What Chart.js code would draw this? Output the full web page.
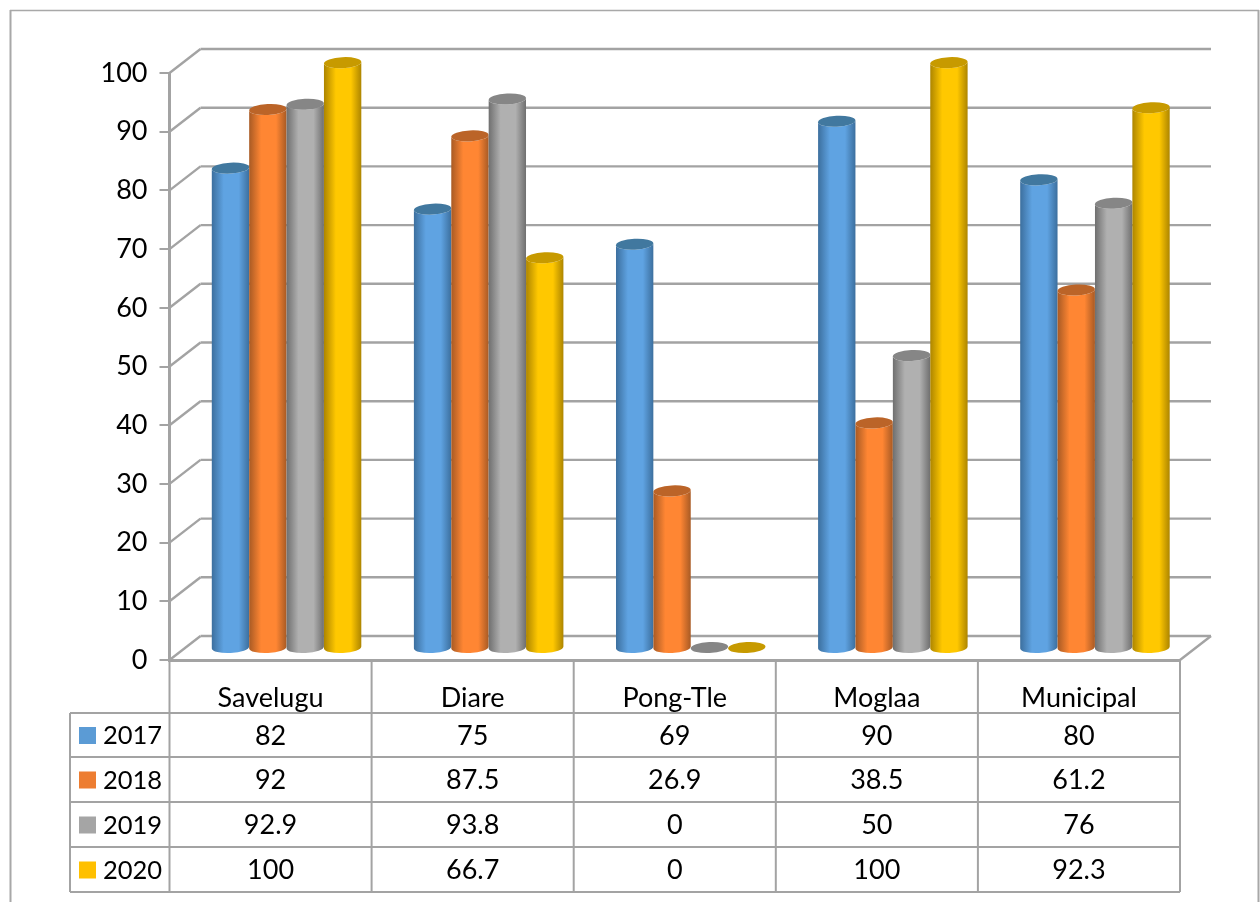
<!DOCTYPE html>
<html>
<head>
<meta charset="utf-8">
<title>Savelugu, Diare, Pong-Tle, Moglaa, Municipal 2017-2020</title>
<script src="https://cdn.jsdelivr.net/npm/chart.js@4/dist/chart.umd.min.js"></script>
<style>
  html, body { margin: 0; padding: 0; background: #fff; overflow: hidden; }
  canvas { display: block; }
</style>
</head>
<body>
<canvas id="chart" width="1260" height="902"></canvas>
<script>
const categories = ['Savelugu', 'Diare', 'Pong-Tle', 'Moglaa', 'Municipal'];
const yearLabels = ['2017', '2018', '2019', '2020'];
const values2017 = [82, 75, 69, 90, 80];
const values2018 = [92, 87.5, 26.9, 38.5, 61.2];
const values2019 = [92.9, 93.8, 0, 50, 76];
const values2020 = [100, 66.7, 0, 100, 92.3];
const seriesValues = [values2017, values2018, values2019, values2020];

const swatchColors = ['#5B9BD5', '#ED7D31', '#A5A5A5', '#FFC000'];
// dark edge, lit middle and lid colour of each cylinder
const edgeColors = ['#3c6f9e', '#a85a24', '#6f6f6f', '#ad8500'];
const liteColors = ['#5fa3e2', '#ff8633', '#b0b0b0', '#ffc800'];
const lidColors = ['#41789f', '#bb6428', '#868686', '#c79a00'];

const LINE = '#a3a3a3';
const FONT_SIZE = 27;
const FONT = FONT_SIZE + 'px Lato, sans-serif';
const YEAR_FONT = '25.5px Lato, sans-serif';
const DEPTH_X = 31;   // back wall offset
const DEPTH_Y = -24;
const BAR_DX = 16;    // cylinders stand in the middle of the floor
const BAR_FLOOR = 647.5;
const BAR_SQUASH = 0.998;  // the middle plane reads slightly shorter than the front axis
const LID_RY = 5.5;
const TILT = -0.05;
const rowLines = [713, 757, 802, 847, 892];
const tableLeft = 70;
const tableTop = 660;

const hline = (ctx, x1, y1, x2, y2) => {
  ctx.beginPath();
  ctx.moveTo(x1, y1);
  ctx.lineTo(x2, y2);
  ctx.stroke();
};

const drawCylinder = (ctx, bar, dsIndex) => {
  const rx = bar.width / 2;
  const cx = bar.x + BAR_DX;
  const top = BAR_FLOOR - (bar.base - bar.y) * BAR_SQUASH;
  const base = BAR_FLOOR;
  if (base - top > 1) {
    const grad = ctx.createLinearGradient(cx - rx, 0, cx + rx, 0);
    grad.addColorStop(0, edgeColors[dsIndex]);
    grad.addColorStop(0.32, liteColors[dsIndex]);
    grad.addColorStop(0.72, liteColors[dsIndex]);
    grad.addColorStop(1, edgeColors[dsIndex]);
    ctx.fillStyle = grad;
    ctx.beginPath();
    ctx.ellipse(cx, base, rx, LID_RY, TILT, 0, Math.PI);
    ctx.ellipse(cx, top, rx, LID_RY, TILT, Math.PI, 0, true);
    ctx.closePath();
    ctx.fill();
  }
  ctx.fillStyle = lidColors[dsIndex];
  ctx.beginPath();
  ctx.ellipse(cx, top, rx, LID_RY, TILT, 0, Math.PI * 2);
  ctx.fill();
};

const cylinders = {
  id: 'cylinders',
  // walls and floor behind the bars, then the bars themselves
  beforeDatasetsDraw(chart) {
    const { ctx, chartArea, scales } = chart;
    ctx.save();
    ctx.strokeStyle = LINE;
    ctx.lineWidth = 2.4;
    scales.y.ticks.forEach(t => {
      const y = scales.y.getPixelForValue(t.value);
      hline(ctx, chartArea.left, y, chartArea.left + DEPTH_X, y + DEPTH_Y);
      hline(ctx, chartArea.left + DEPTH_X, y + DEPTH_Y, chartArea.right + DEPTH_X, y + DEPTH_Y);
    });
    hline(ctx, chartArea.right, chartArea.bottom, chartArea.right + DEPTH_X, chartArea.bottom + DEPTH_Y);
    chart.data.datasets.forEach((ds, i) => {
      chart.getDatasetMeta(i).data.forEach(bar => drawCylinder(ctx, bar, i));
    });
    ctx.restore();
    return false;
  },
};

const dataTable = {
  id: 'dataTable',
  afterDraw(chart) {
    const { ctx, chartArea, scales } = chart;
    const colWidth = scales.x.width / categories.length;
    ctx.save();

    // page frame, open at the bottom
    ctx.strokeStyle = '#a8a8a8';
    ctx.lineWidth = 2;
    hline(ctx, 10.5, 902, 10.5, 10);
    hline(ctx, 1258.5, 10, 1258.5, 902);
    ctx.lineWidth = 1.4;
    hline(ctx, 10, 10.5, 1259, 10.5);

    ctx.strokeStyle = LINE;
    ctx.lineWidth = 2;
    categories.forEach((c, i) => {
      const x = chartArea.left + colWidth * (i + 1);
      hline(ctx, x, tableTop, x, rowLines[rowLines.length - 1]);
    });
    hline(ctx, chartArea.left, tableTop, chartArea.left, rowLines[rowLines.length - 1]);
    hline(ctx, tableLeft, rowLines[0], tableLeft, rowLines[rowLines.length - 1]);
    rowLines.forEach(y => hline(ctx, tableLeft, y, chartArea.right, y));

    ctx.textBaseline = 'middle';
    ctx.fillStyle = '#000';
    yearLabels.forEach((label, r) => {
      const mid = (rowLines[r] + rowLines[r + 1]) / 2 + 1;
      ctx.fillStyle = swatchColors[r];
      ctx.fillRect(79, mid - 9, 17, 17);
      ctx.fillStyle = '#000';
      ctx.font = YEAR_FONT;
      ctx.textAlign = 'left';
      ctx.fillText(label, 103, mid);
      ctx.font = FONT;
      ctx.textAlign = 'center';
      seriesValues[r].forEach((v, c) => {
        ctx.fillText(String(v), scales.x.getPixelForValue(c), mid);
      });
    });
    ctx.restore();
  },
};

new Chart(document.getElementById('chart'), {
  type: 'bar',
  data: {
    labels: categories,
    datasets: yearLabels.map((label, i) => ({
      label,
      data: seriesValues[i],
      backgroundColor: swatchColors[i],
    })),
  },
  options: {
    responsive: false,
    animation: false,
    layout: { padding: { top: 73, right: 80, bottom: 182, left: 0 } },
    datasets: { bar: { categoryPercentage: 0.74, barPercentage: 1 } },
    plugins: { legend: { display: false }, tooltip: { enabled: false } },
    scales: {
      x: {
        afterFit: s => { s.height = 60; },
        grid: { display: false, drawTicks: false },
        border: { color: LINE, width: 3 },
        ticks: { color: '#000', font: { family: 'Lato', size: FONT_SIZE }, padding: 22, maxRotation: 0 },
      },
      y: {
        min: 0,
        max: 100,
        afterFit: s => { s.width = 169.5; },
        grid: { drawOnChartArea: false, color: LINE, lineWidth: 2, tickLength: 10 },
        border: { color: LINE, width: 3 },
        ticks: { stepSize: 10, color: '#000', font: { family: 'Lato', size: FONT_SIZE }, padding: 12 },
      },
    },
  },
  plugins: [cylinders, dataTable],
});
</script>
</body>
</html>
